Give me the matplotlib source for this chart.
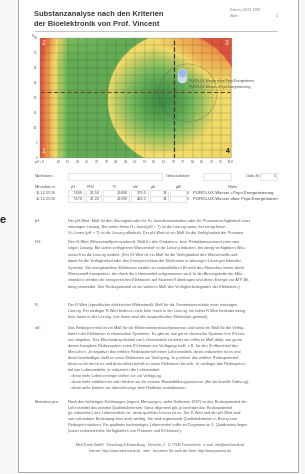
import numpy as np
import matplotlib
matplotlib.use("Agg")
import matplotlib.pyplot as plt
from matplotlib.colors import LinearSegmentedColormap
from matplotlib.patches import Rectangle, Ellipse

plt.rcParams['font.family'] = ['Liberation Sans', 'DejaVu Sans']

# --- measured samples ---
dates = ["15.12.2006", "15.12.2006"]
ph = [7.460, 7.470]
rh2 = [26.50, 28.20]
r_val = [29400, 29300]
mv = [309.0, 408.0]
us = [34, 34]
codes = [4, 5]
samples = ["PUROLUX-Wasser +Pejot-Energetisierung",
           "PUROLUX-Wasser ohne Pejot-Energetisierer"]

# --- chart axes ---
ph_ref = 7.0
rh_ref = 22.0
x_ticks = [0, 0.5, 1, 1.5, 2, 2.5, 3, 3.5, 4, 4.5, 5, 5.5, 6, 6.5, 7, 7.5, 8, 8.5, 9, 9.5, 10]
x_labels = ["pH = 0", "", "1.0", "1.5", "2.0", "2.5", "3.0", "3.5", "4.0", "4.5", "5.0",
            "5.5", "6.0", "6.5", "7.0", "7.5", "8.0", "8.5", "9.0", "9.5", "10.0"]
y_ticks = [0, 5, 10, 15, 20, 25, 30, 35, 40]
y_labels = ["0", "5", "10", "15", "20", "25", "30", "35", "40"]

# --- text blocks ---
ph_text = [
    "Der pH-Wert: Maß für den Säuregrad oder die H+-Ionenkonzentration oder die Protonenverfügbarkeit einer",
    "wässrigen Lösung. Bei vielen freien H+-Ionen(pH < 7) ist die Lösung sauer, bei wenig freien",
    "H+-Ionen (pH > 7) ist die Lösung alkalisch. Der pH-Wert ist ein Maß für die Verfügbarkeit der Protonen.",
]
rh_text = [
    "Der rH-Wert (Wasserstoffpotenzialwert): Maß für den Oxidations- bzw. Reduktionszustand einer wäs-",
    "srigen Lösung. Bei vielen verfügbaren Wasserstoff ist die Lösung reduziert, bei wenig verfügbaren Was-",
    "serstoff ist die Lösung oxidiert. (Der rH-Wert ist ein Maß für die Verfügbarkeit des Wasserstoffs und",
    "damit für die Verfügbarkeit oder den Energiereichtum der Elektronen in wässrigen Lösungen lebender",
    "Systeme. Die energiereichen Elektronen werden im extrazellulären Bereich des Menschen immer durch",
    "Wasserstoff transportiert, der durch die Lebensmittel aufgenommen wird. In der Atmungskette der Mito-",
    "chondrien werden die energiereichen Elektronen auf Sauerstoff übertragen und deren Energie zur ATP-Bil-",
    "dung verwendet. Das Redoxpotential ist ein weiteres Maß des Verfügbarkeitsgrades der Elektronen.)",
]
r_text = [
    "Der R-Wert (spezifischer elektrischer Widerstand): Maß für die Gesamtionenstärke einer wässrigen",
    "Lösung. Ein niedriger R-Wert bedeutet viele freie Ionen in der Lösung, ein hoher R-Wert bedeutet wenig",
    "freie Ionen in der Lösung. (mit Ionen sind alle unspezifischen Elektrolyte gemeint)",
]
mv_text = [
    "Das Redoxpotential ist ein Maß für die Elektronenaustauschprozesse und somit ein Maß für die Verfüg-",
    "barkeit der Elektronen in chemischen Systemen. Es gibt an, wie gerne chemische Systeme ihre Elektro-",
    "nen abgeben. Das Mischredoxpotential von Lebensmitteln ist daher ein mittleres Maß dafür, wie gerne",
    "dieses komplexe Redoxsystem seine Elektronen zur Verfügung stellt, z.B. für den Stoffwechsel des",
    "Menschen. Je negativer das mittlere Redoxpotential eines Lebensmittels, desto reduzierter ist es und",
    "desto bereitwilliger stellt es seine Elektronen zur Verfügung. Je positiver das mittlere Redoxpotential,",
    "desto oxidierter ist es und desto lieber behält es seine Elektronen für sich. Je niedriger das Redoxpoten-",
    "tial von Lebensmitteln, je reduzierter die Lebensmittel:",
    " - desto mehr Lebensenergie stellen sie zur Verfügung,",
    " - desto mehr stabilisieren oder fördern sie die inneren Musterbildungsprozesse (die strukturelle Ordnung),",
    " - desto mehr können sie überschüssige freie Radikale neutralisieren.",
]
note_text = [
    "Nach den bisherigen Erfahrungen (eigene Messungen, siehe Hoffmann 1997) ist das Redoxpotential der",
    "Lebensmittel das primäre Qualitätskriterium. Ganz allgemein gilt, je niedriger das Redoxpotential",
    "(je reduzierter) des Lebensmittels ist, desto qualitativ besser ist es. Der R-Wert und der pH-Wert sind",
    "von sekundärer Bedeutung aber auch wichtig. Sie sind ergänzende Qualitätskriterien in Bezug zum",
    "Redoxpotentialwert. Ein qualitativ hochwertiges Lebensmittel sollte im Diagramm im 1. Quadranten liegen",
    "(sauer reduziert-hohe Verfügbarkeit von Protonen und Elektronen).",
]
footer = [
    "Med-Tronik GmbH · Forschung & Entwicklung · Dieselstr. 2 · D-77948 Friesenheim · e-mail: info@med-tronik.de",
    "Internet: http://www.med-tronik.de   oder   besuchen Sie auch die Seite: http://www.purolux.de",
]

W, H = 305, 474
fig = plt.figure(figsize=(W / 100, H / 100), dpi=100, facecolor='#f6f6f6')

# page layer in pixel coordinates
page = fig.add_axes([0, 0, 1, 1])
page.set_xlim(0, W)
page.set_ylim(H, 0)
page.axis('off')
page.add_patch(Rectangle((18, -2), 279.5, 473.5, facecolor='white', edgecolor='#9a9a9a', lw=0.6))
page.text(3, 220, "e", fontsize=8, fontweight='bold', color='#222', ha='center', va='center')

gray = '#5a5a5a'


def put(x, y, s, size=2.8, color=gray, **kw):
    page.text(x, y, s, fontsize=size, color=color, va='center', **kw)


put(34, 14, "Substanzanalyse nach den Kriterien", size=5.4, color='#3c3c3c', fontweight='bold')
put(34, 24, "der Bioelektronik von Prof. Vincent", size=5.4, color='#3c3c3c', fontweight='bold')
put(230, 10, "Datum: 29.01.2007", size=2.6, color='#777')
put(230, 16, "Seite:", size=2.6, color='#777')
put(278, 16, "1", size=2.6, color='#777', ha='right')
page.plot([35, 277], [30.5, 30.5], color='#aaaaaa', lw=0.5)

# form fields
put(35, 176, "Nachname:")
page.add_patch(Rectangle((68, 172.5), 94, 7, facecolor='white', edgecolor='#cfcfcf', lw=0.4))
put(166, 176, "Geburtsdatum:")
page.add_patch(Rectangle((203, 172.5), 28, 7, facecolor='white', edgecolor='#cfcfcf', lw=0.4))
put(246, 176, "Code-Nr:")
page.add_patch(Rectangle((260, 172.5), 17, 7, facecolor='white', edgecolor='#cfcfcf', lw=0.4))
put(276, 176, "6", ha='right')

# table
heads = ["Messdatum", "pH", "RH2", "R", "mV", "µS", "µW", "Probe"]
head_x = [45, 73, 91, 114, 136, 153, 179, 233]
for hx, h in zip(head_x, heads):
    put(hx, 187, h, size=2.9, ha='center')
boxes = [(68, 84), (86, 101), (103, 129), (131, 148), (150, 168), (170, 186)]
for i in range(len(dates)):
    yy = 193 + 6 * i
    for b0, b1 in boxes:
        page.add_patch(Rectangle((b0, yy - 2.8), b1 - b0, 5.6, facecolor='white', edgecolor='#d2d2d2', lw=0.4))
    put(36, yy, dates[i], size=2.9)
    put(83, yy, f"{ph[i]:.3f}".replace('.', ','), size=2.9, ha='right')
    put(100, yy, f"{rh2[i]:.2f}".replace('.', ','), size=2.9, ha='right')
    put(128, yy, f"{r_val[i]}", size=2.9, ha='right')
    put(147, yy, f"{mv[i]:.1f}".replace('.', ','), size=2.9, ha='right')
    put(167, yy, f"{us[i]}", size=2.9, ha='right')
    put(189, yy, f"{codes[i]}", size=2.9, ha='right')
    put(193, yy, samples[i], size=3.1, color='#444')

# explanatory paragraphs
blocks = [("pH:", ph_text, 221, 6.2), ("rH2:", rh_text, 242, 6.4), ("R:", r_text, 305, 6.2),
          ("mV:", mv_text, 328.3, 5.95), ("Bemerkungen:", note_text, 401.7, 5.8)]
for lab, lines, y0, dy in blocks:
    put(35, y0, lab)
    for k, line in enumerate(lines):
        put(68, y0 + k * dy, line)
put(160, 445, footer[0], size=2.4, ha='center')
put(160, 451, footer[1], size=2.4, ha='center')

# --- chart ---
L, R_, T, B = 39.5, 231, 38, 158
ax = fig.add_axes([L / W, 1 - B / H, (R_ - L) / W, (B - T) / H])

cmap = LinearSegmentedColormap.from_list(
    'vincent', [(0, '#3f8f46'), (0.22, '#74b95b'), (0.5, '#f2dc6a'), (0.72, '#eea04a'), (1.0, '#dd4a3c')])
pw, ph_px = R_ - L, B - T
PX, PY = np.meshgrid(np.linspace(0, pw, 384), np.linspace(0, ph_px, 240))
d = np.hypot(PX - 133.5, PY - 61)
inside = d < 66
field = 0.15 + 0.85 * np.clip(1 - PX / 30, 0, 1) ** 1.3
field += 0.12 * np.clip(1 - PY / 25, 0, 1) * np.clip(1 - PX / 90, 0, 1)
right = (~inside) & (PX > 133.5)
vr = 0.52 + 0.45 * np.clip((75 - PY) / 45, 0, 1)
field[right] = vr[right]
di = np.hypot(PX - 122, PY - 62)
vi = 0.5 * np.clip(di / 55, 0, 1) ** 1.4
vi += 0.4 * np.clip((PX - 115) / 70, 0, 1) * np.clip((45 - PY) / 45, 0, 1)
field[inside] = vi[inside]
ax.imshow(field, cmap=cmap, vmin=0, vmax=1, extent=[0, 10, 0, 40], origin='upper',
          aspect='auto', interpolation='bilinear')

ax.set_xlim(0, 10)
ax.set_ylim(0, 40)
ax.set_xticks(x_ticks)
ax.set_xticklabels(x_labels)
ax.set_yticks(y_ticks)
ax.set_yticklabels(y_labels)
ax.set_yticks([2.5 + 5 * k for k in range(8)], minor=True)
ax.tick_params(which='both', length=0, labelsize=2.2, labelcolor='#555', pad=1.5)
ax.grid(which='both', color='#333333', lw=0.3, alpha=0.45)
ax.set_axisbelow(False)
for s in ax.spines.values():
    s.set_color('#bbbbbb')
    s.set_linewidth(0.3)
page.text(35, 36, "rH", fontsize=2.2, color='#555', ha='right', va='center')

ax.axvline(ph_ref, color='#333333', ls=(0, (4, 2)), lw=0.8)
ax.axhline(rh_ref, color='#6b4a1e', ls=(0, (4, 2)), lw=0.8)
ax.add_patch(Ellipse((7.75, 21.7), 3.03, 19.3, fill=False, ls=(0, (3, 2)), ec='#444', lw=0.4, alpha=0.7))

ax.scatter(ph, rh2, s=42, c=['#cbdaf0', '#9ab8ea'], edgecolors='#e3eaf6', linewidths=0.4, zorder=5)
for i in (1, 0):
    ax.annotate(samples[i], (ph[i], rh2[i]), xytext=(4.5, -5.8), textcoords='offset points',
                fontsize=2.3, color='#444', va='center')

qc = '#f8c890'
ax.text(0.023, 0.95, "2", transform=ax.transAxes, fontsize=5, color=qc, ha='center', va='center', fontweight='bold')
ax.text(0.979, 0.95, "3", transform=ax.transAxes, fontsize=5, color=qc, ha='center', va='center', fontweight='bold')
ax.text(0.023, 0.05, "1", transform=ax.transAxes, fontsize=5, color=qc, ha='center', va='center', fontweight='bold')
ax.text(0.984, 0.05, "4", transform=ax.transAxes, fontsize=5, color='#111', ha='center', va='center', fontweight='bold')

fig.savefig("out.png", dpi=100, facecolor=fig.get_facecolor())
